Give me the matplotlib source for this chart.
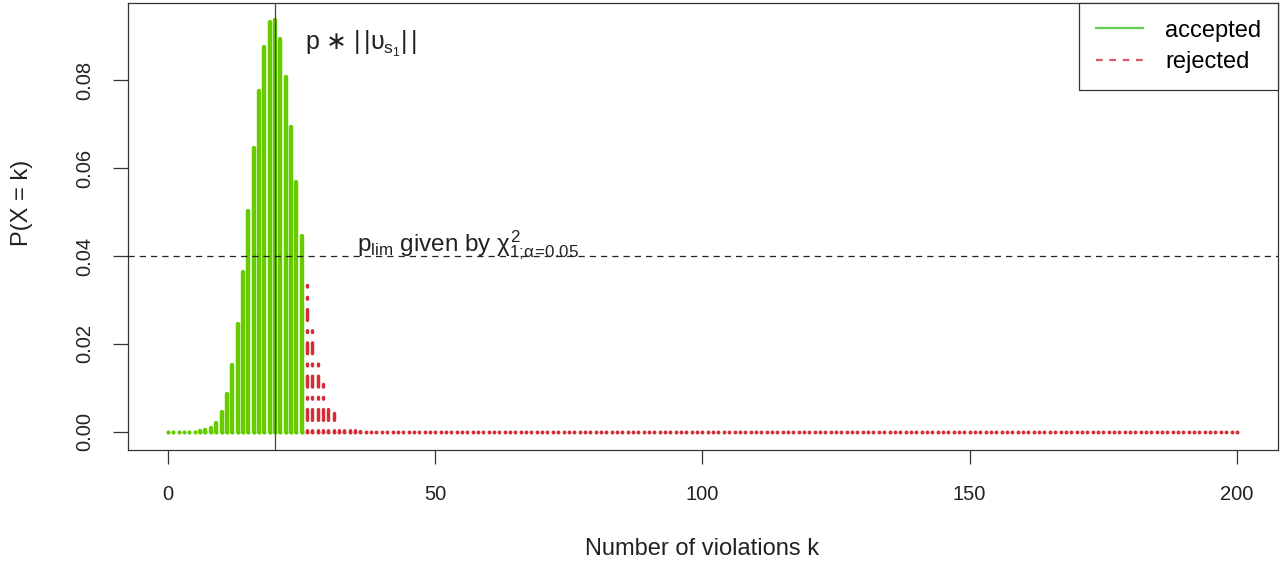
import numpy as np
import matplotlib
matplotlib.use("Agg")
import matplotlib.pyplot as plt
from matplotlib.lines import Line2D

plt.rcParams['font.family'] = ['Liberation Sans', 'DejaVu Sans']
plt.rcParams['mathtext.fontset'] = 'custom'
plt.rcParams['mathtext.rm'] = 'Liberation Sans'
plt.rcParams['mathtext.it'] = 'Liberation Sans'
plt.rcParams['mathtext.bf'] = 'Liberation Sans:bold'
plt.rcParams['mathtext.sf'] = 'DejaVu Sans'

# ---- data ----
accepted_k = list(range(0, 26))
accepted_p = [0.0000000007, 0.00000002, 0.00000017, 0.0000013, 0.000007, 0.00003,
              0.00011, 0.00034, 0.0009, 0.0021, 0.0045, 0.0087, 0.0153, 0.0245,
              0.0364, 0.0502, 0.0645, 0.0775, 0.0876, 0.0932, 0.0937, 0.0893,
              0.0807, 0.0694, 0.0569, 0.0445]

rejected_k = list(range(26, 201))
rejected_p = [0.0333, 0.0238, 0.0164, 0.0108, 0.0068, 0.0042, 0.0024, 0.0014,
              0.00075, 0.0004, 0.0002, 0.0001, 0.00005, 0.00002, 0.00001,
              0.0, 0.0, 0.0, 0.0, 0.0, 0.0, 0.0, 0.0, 0.0, 0.0, 0.0, 0.0, 0.0, 0.0, 0.0, 0.0, 0.0, 0.0, 0.0, 0.0,
              0.0, 0.0, 0.0, 0.0, 0.0, 0.0, 0.0, 0.0, 0.0, 0.0, 0.0, 0.0, 0.0, 0.0, 0.0, 0.0, 0.0, 0.0, 0.0, 0.0,
              0.0, 0.0, 0.0, 0.0, 0.0, 0.0, 0.0, 0.0, 0.0, 0.0, 0.0, 0.0, 0.0, 0.0, 0.0, 0.0, 0.0, 0.0, 0.0, 0.0,
              0.0, 0.0, 0.0, 0.0, 0.0, 0.0, 0.0, 0.0, 0.0, 0.0, 0.0, 0.0, 0.0, 0.0, 0.0, 0.0, 0.0, 0.0, 0.0, 0.0,
              0.0, 0.0, 0.0, 0.0, 0.0, 0.0, 0.0, 0.0, 0.0, 0.0, 0.0, 0.0, 0.0, 0.0, 0.0, 0.0, 0.0, 0.0, 0.0, 0.0,
              0.0, 0.0, 0.0, 0.0, 0.0, 0.0, 0.0, 0.0, 0.0, 0.0, 0.0, 0.0, 0.0, 0.0, 0.0, 0.0, 0.0, 0.0, 0.0, 0.0,
              0.0, 0.0, 0.0, 0.0, 0.0, 0.0, 0.0, 0.0, 0.0, 0.0, 0.0, 0.0, 0.0, 0.0, 0.0, 0.0, 0.0, 0.0, 0.0, 0.0,
              0.0, 0.0, 0.0, 0.0, 0.0, 0.0, 0.0, 0.0, 0.0, 0.0, 0.0, 0.0, 0.0, 0.0, 0.0, 0.0, 0.0, 0.0, 0.0, 0.0]

expected_k = 20
p_lim = 0.04

x_ticks = [0, 50, 100, 150, 200]
y_ticks = [0.00, 0.02, 0.04, 0.06, 0.08]
y_tick_labels = ["0.00", "0.02", "0.04", "0.06", "0.08"]
legend_labels = ["accepted", "rejected"]

# ---- styling ----
GREEN_BAR = '#66CC00'
RED_BAR = '#D42D35'
GREEN_LEG = '#61D04F'
RED_LEG = '#DF536B'

fig = plt.figure(figsize=(12.82, 5.68), dpi=100)
ax = fig.add_axes([128/1282, 118/568, 1150/1282, 447/568])

ax.vlines(accepted_k, 0, accepted_p, colors=GREEN_BAR, linewidth=3.2,
          capstyle='round', zorder=3)
ax.plot(accepted_k, np.zeros(len(accepted_k)), 'o', color=GREEN_BAR,
        markersize=3.0, markeredgewidth=0, zorder=3)

lc = ax.vlines(rejected_k, 0, rejected_p, colors=RED_BAR, linewidth=2.5,
               linestyles=[(0, (0.5, 3.0, 3.1, 3.0))], zorder=3)
lc.set_capstyle('round')
ax.plot(rejected_k, np.zeros(len(rejected_k)), 'o', color=RED_BAR,
        markersize=2.8, markeredgewidth=0, zorder=3)

ax.axvline(expected_k, color='#444444', linewidth=0.9, zorder=4)
ax.axhline(p_lim, color='#222222', linewidth=0.9, linestyle=(0, (5, 4)), zorder=4)

ax.text(25.6, 0.0883, r'$p\ \mathsf{\ast}\ |\,|\upsilon_{s_1}|\,|$', fontsize=18,
        ha='left', va='center', color='#222222')
ax.text(35.3, 0.0425, r'$p_{lim}$ given by $\chi^2_{1;\!\alpha\!=\!0.05}$', fontsize=17.5,
        ha='left', va='center', color='#222222')

ax.set_xlim(-7.5, 207.7)
ax.set_ylim(-0.0041, 0.0975)
ax.set_xticks(x_ticks)
ax.set_xticklabels([str(t) for t in x_ticks])
ax.set_yticks(y_ticks)
ax.set_yticklabels(y_tick_labels, rotation=90, va='center')
ax.tick_params(axis='x', length=10, width=0.9, pad=15.5, labelsize=14.5,
               color='#333333', labelcolor='#222222')
ax.tick_params(axis='y', length=11, width=0.9, pad=13.5, labelsize=14.5,
               color='#333333', labelcolor='#222222')
for s in ax.spines.values():
    s.set_linewidth(0.9)
    s.set_color('#333333')

fig.text(702/1282, 1 - 549/568, 'Number of violations k', fontsize=17,
         ha='center', va='center', color='#222222')
fig.text(22/1282, 1 - 203/568, r'P(X = k)', fontsize=17, rotation=90,
         ha='center', va='center', color='#222222')

handles = [Line2D([], [], color=GREEN_LEG, linewidth=1.6),
           Line2D([], [], color=RED_LEG, linewidth=1.6, linestyle=(0, (3, 3)))]
leg = ax.legend(handles, legend_labels, loc='upper right', fontsize=17,
                frameon=True, fancybox=False, edgecolor='#333333',
                framealpha=1, borderaxespad=0, borderpad=0.7,
                labelspacing=0.4, handlelength=2.0, handletextpad=0.95)
leg.get_frame().set_linewidth(0.9)
leg.set_zorder(10)

fig.savefig('out.png', dpi=100)
